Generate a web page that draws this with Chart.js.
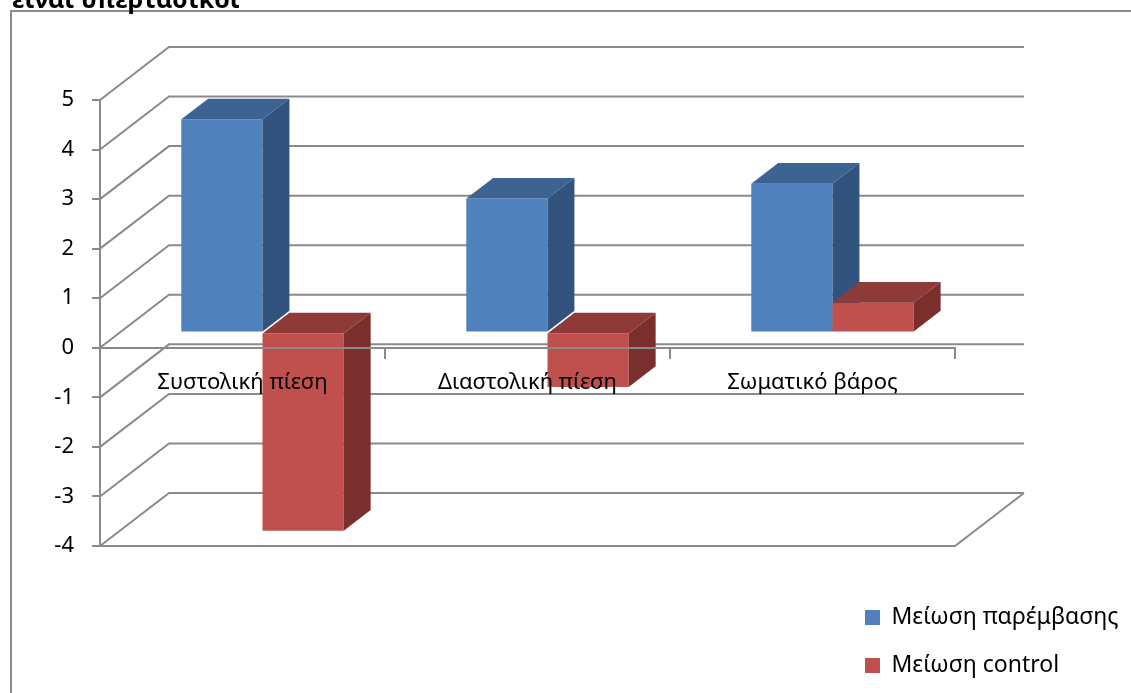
<!DOCTYPE html>
<html>
<head>
<meta charset="utf-8">
<script src="https://cdn.jsdelivr.net/npm/chart.js@4/dist/chart.umd.min.js"></script>
<style>
  html, body { margin: 0; padding: 0; background: #fff; }
  #wrap { width: 1131px; height: 693px; }
</style>
</head>
<body>
<div id="wrap"><canvas id="chart" width="1131" height="693"></canvas></div>
<script>
// data
const categories = ['Συστολική πίεση', 'Διαστολική πίεση', 'Σωματικό βάρος'];
const seriesNames = ['Μείωση παρέμβασης', 'Μείωση control'];
const interventionDrop = [4.3, 2.7, 3.0];
const controlDrop = [-4.0, -1.1, 0.6];
const yMin = -4;
const yMax = 5;
const titleText = 'είναι υπερτασικοί';

const frontColors = ['#4F81BD', '#C0504D'];
const topColors = ['#3D6392', '#8E3A38'];
const sideColors = ['#32537E', '#7B2F2D'];
const GRID = '#8a8a8a';

// depth of the 3d box and where the bars sit inside it
const DEPTH = { x: 69, y: -53 };
const BAR_FRONT = 0.29;
const BAR_BACK = 0.68;

function poly(ctx, pts, color) {
    ctx.beginPath();
    ctx.moveTo(pts[0][0], pts[0][1]);
    for (let i = 1; i < pts.length; i++) ctx.lineTo(pts[i][0], pts[i][1]);
    ctx.closePath();
    ctx.fillStyle = color;
    ctx.fill();
}

const box3d = {
    id: 'box3d',
    beforeDraw(chart) {
        const ctx = chart.ctx;
        ctx.save();
        // chart frame (cut by the page)
        ctx.strokeStyle = GRID;
        ctx.lineWidth = 2;
        ctx.strokeRect(11, 11, 1300, 900);
        // title, mostly cut off at the top
        ctx.fillStyle = '#000';
        ctx.font = 'bold 25px "Noto Sans"';
        ctx.textBaseline = 'alphabetic';
        ctx.fillText(titleText, 12, 8);
        ctx.restore();
    },
    afterLayout(chart) {
        // legend sits bottom right, over the plot width
        const lg = chart.legend;
        lg.left = 840;
        lg.top = 581;
        lg.right = 1131;
        lg.bottom = 900;
        lg.width = lg.right - lg.left;
        lg.height = lg.bottom - lg.top;
    },
    beforeDatasetsDraw(chart) {
        const { ctx, chartArea: a, scales: { y } } = chart;
        ctx.save();
        ctx.strokeStyle = GRID;
        ctx.lineWidth = 2;
        ctx.beginPath();
        // side wall diagonals + back wall lines
        y.ticks.forEach(t => {
            const py = y.getPixelForValue(t.value);
            ctx.moveTo(a.left, py);
            ctx.lineTo(a.left + DEPTH.x, py + DEPTH.y);
            ctx.lineTo(a.right + DEPTH.x, py + DEPTH.y);
        });
        // floor
        const fy = y.getPixelForValue(yMin);
        ctx.moveTo(a.left, fy);
        ctx.lineTo(a.right, fy);
        ctx.lineTo(a.right + DEPTH.x, fy + DEPTH.y);
        ctx.stroke();
        ctx.restore();
    },
    beforeDatasetDraw() {
        // bars are drawn below, in 3d
        return false;
    },
    afterDatasetsDraw(chart) {
        const ctx = chart.ctx;
        const dx = DEPTH.x * (BAR_BACK - BAR_FRONT);
        const dy = DEPTH.y * (BAR_BACK - BAR_FRONT);
        ctx.save();
        ctx.translate(DEPTH.x * BAR_FRONT, DEPTH.y * BAR_FRONT);
        for (let j = 0; j < categories.length; j++) {
            for (let i = 0; i < chart.data.datasets.length; i++) {
                const bar = chart.getDatasetMeta(i).data[j];
                const l = bar.x - bar.width / 2;
                const r = bar.x + bar.width / 2;
                const top = Math.min(bar.y, bar.base);
                const bot = Math.max(bar.y, bar.base);
                bar.draw(ctx);
                poly(ctx, [[l, top], [r, top], [r + dx, top + dy], [l + dx, top + dy]], topColors[i]);
                poly(ctx, [[r, top], [r, bot], [r + dx, bot + dy], [r + dx, top + dy]], sideColors[i]);
            }
        }
        ctx.restore();
    }
};

Chart.defaults.font.family = '"Noto Sans", sans-serif';
Chart.defaults.color = '#000';

new Chart(document.getElementById('chart').getContext('2d'), {
    type: 'bar',
    data: {
        labels: categories,
        datasets: [{
            label: seriesNames[0],
            data: interventionDrop,
            backgroundColor: frontColors[0],
            borderWidth: 0,
            categoryPercentage: 0.57,
            barPercentage: 1
        }, {
            label: seriesNames[1],
            data: controlDrop,
            backgroundColor: frontColors[1],
            borderWidth: 0,
            categoryPercentage: 0.57,
            barPercentage: 1
        }]
    },
    options: {
        responsive: false,
        animation: false,
        layout: { padding: { left: 0, top: 100, right: 176, bottom: 147 } },
        scales: {
            x: {
                position: { y: 0 },
                grid: { drawOnChartArea: false, offset: true, tickLength: 10, color: GRID, lineWidth: 2, z: 1 },
                border: { color: GRID, width: 2, z: 1 },
                ticks: { font: { size: 22 }, padding: 12, maxRotation: 0, z: 1 }
            },
            y: {
                min: yMin,
                max: yMax,
                afterFit(s) { s.width = 100; },
                grid: { drawOnChartArea: false, tickLength: 8, color: GRID, lineWidth: 2 },
                border: { color: GRID, width: 2 },
                ticks: { stepSize: 1, font: { size: 22 }, padding: 18 }
            }
        },
        plugins: {
            legend: {
                position: 'chartArea',
                align: 'start',
                labels: { boxWidth: 15, boxHeight: 15, padding: 25, font: { size: 23 } }
            },
            tooltip: { enabled: false }
        }
    },
    plugins: [box3d]
});
</script>
</body>
</html>
